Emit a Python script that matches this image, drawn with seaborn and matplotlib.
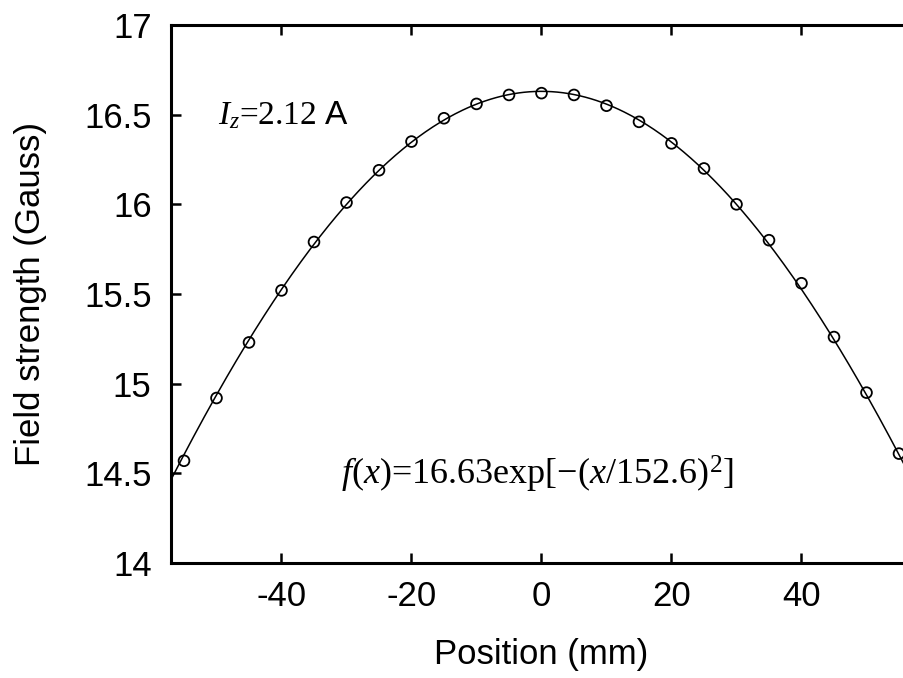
import numpy as np
import pandas as pd
import matplotlib
matplotlib.use("Agg")
import matplotlib.pyplot as plt
import seaborn as sns

# ---- data ----
position_mm = [-55, -50, -45, -40, -35, -30, -25, -20, -15, -10, -5, 0,
               5, 10, 15, 20, 25, 30, 35, 40, 45, 50, 55]
field_gauss = [14.57, 14.92, 15.23, 15.52, 15.79, 16.01, 16.19, 16.35, 16.48,
               16.56, 16.61, 16.62, 16.61, 16.55, 16.46, 16.34, 16.20, 16.00,
               15.80, 15.56, 15.26, 14.95, 14.61]
# fitted Gaussian parameters shown on the chart
fit_amplitude = 16.63
fit_width = 152.6
xticks = [-40, -20, 0, 20, 40]
yticks = [14, 14.5, 15, 15.5, 16, 16.5, 17]
ytick_labels = ["14", "14.5", "15", "15.5", "16", "16.5", "17"]

sns.set_style("ticks")
plt.rcParams["font.family"] = ["Liberation Sans", "DejaVu Sans"]
plt.rcParams["text.color"] = "black"
plt.rcParams["axes.labelcolor"] = "black"
plt.rcParams["mathtext.fontset"] = "custom"
plt.rcParams["mathtext.rm"] = "Liberation Serif"
plt.rcParams["mathtext.it"] = "Liberation Serif:italic"
plt.rcParams["mathtext.sf"] = "Liberation Sans"

fig = plt.figure(figsize=(9.04, 6.78), dpi=100)
ax = fig.add_axes([171 / 904, 1 - 563 / 678, (912 - 171) / 904, (563 - 25) / 678])

fit_x = np.linspace(-57, 57, 400)
fit_df = pd.DataFrame({"x": fit_x, "y": fit_amplitude * np.exp(-(fit_x / fit_width) ** 2)})
pts_df = pd.DataFrame({"x": position_mm, "y": field_gauss})

sns.lineplot(data=fit_df, x="x", y="y", ax=ax, color="black", lw=1.1)
sns.scatterplot(data=pts_df, x="x", y="y", ax=ax, marker="o", s=60,
                facecolor="none", edgecolor="black", linewidth=1.3, zorder=3)

ax.set_xlim(-57, 57)
ax.set_ylim(14, 17)
ax.set_xticks(xticks)
ax.set_xticklabels([str(t) for t in xticks])
ax.set_yticks(yticks)
ax.set_yticklabels(ytick_labels)
ax.tick_params(axis="both", direction="in", length=7, width=1.8, labelsize=25,
               top=True, right=False, colors="black")
ax.tick_params(axis="x", pad=12)
ax.tick_params(axis="y", pad=14)
for side in ["left", "top", "bottom"]:
    ax.spines[side].set_linewidth(2.2)
    ax.spines[side].set_color("black")
ax.spines["right"].set_visible(False)

ax.set_xlabel("Position (mm)", fontsize=25, color="black")
ax.set_ylabel("Field strength (Gauss)", fontsize=25, color="black")
ax.xaxis.set_label_coords(0.5, -0.14)
ax.yaxis.set_label_coords(-0.167, 0.5)

ax.text(0.063, 0.832, r"$I_z$=2.12 $\mathsf{A}$", transform=ax.transAxes,
        fontsize=24, ha="left", va="center", color="black",
        family=["Liberation Serif", "DejaVu Serif"])
ax.text(0.494, 0.165, r"$f(x)$=16.63exp$[-(x/152.6)^{2}]$", transform=ax.transAxes,
        fontsize=26, ha="center", va="center", color="black",
        family=["Liberation Serif", "DejaVu Serif"])

fig.savefig("out.png", dpi=100)
